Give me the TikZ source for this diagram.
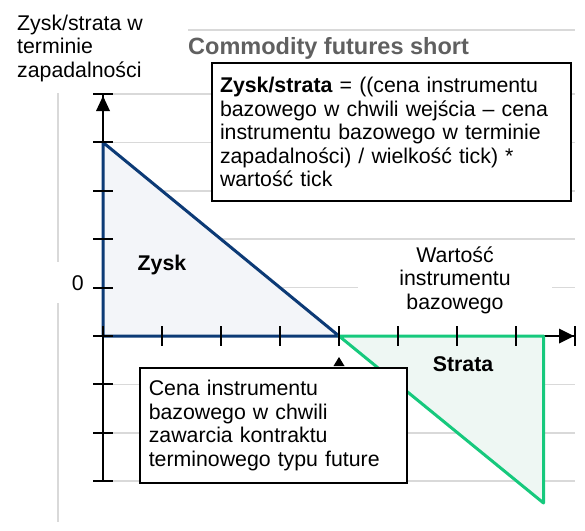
\documentclass[tikz,border=0pt]{standalone}
\usepackage{fontspec}
\setmainfont{Liberation Sans}
\definecolor{navy}{RGB}{12,58,118}
\definecolor{mint}{RGB}{22,201,125}
\definecolor{gridc}{RGB}{217,217,217}
\definecolor{bluefill}{RGB}{243,245,249}
\definecolor{greenfill}{RGB}{238,247,243}
\definecolor{titlegrey}{RGB}{96,96,96}
\begin{document}
\begin{tikzpicture}[x=1pt,y=-1pt,
  gridline/.style={draw=gridc,line width=1.5pt},
  axisline/.style={draw=black,line width=2pt},
  tickmark/.style={draw=black,line width=2pt},
  txt/.style={font=\fontsize{21.3}{23.5}\selectfont, inner sep=0pt},
  boldtxt/.style={font=\fontsize{21.3}{23.5}\selectfont\bfseries, inner sep=0pt},
  boxnode/.style={draw=black, fill=white, font=\fontsize{21.3}{23.5}\selectfont, align=left}]
\useasboundingbox (0,0) rectangle (585,530);
% grid
\foreach \y in {94,142.4,190.8,239.2,384.4,432.8,481.2}
  \draw[gridline] (103,\y) -- (575,\y);
\draw[gridline] (103,287.6) -- (358,287.6);
\draw[gridline] (552,287.6) -- (575,287.6);
\draw[gridline] (188,30) -- (575,30);
\draw[gridline] (58,93) -- (58,262);
\draw[gridline] (58,303) -- (58,522);
% axes
\coordinate (O) at (103,336);
\coordinate (ytop) at (103,94);
\coordinate (ybot) at (103,481.2);
\coordinate (xend) at (575,336);
\draw[axisline] (ybot) -- (ytop);
\draw[axisline] (O) -- (xend);
\fill (103,96) -- (96,111) -- (110,111) -- cycle;
\fill (574,336) -- (559,328.5) -- (559,343.5) -- cycle;
\draw[tickmark] (93,94) -- (113,94);
\draw[tickmark] (575,326) -- (575,346);
% triangles
\coordinate (bt) at (103,142.4);
\coordinate (be) at (339,336);
\coordinate (gc) at (543.5,336);
\coordinate (gb) at (543.5,503);
\draw[navy, line width=3pt, fill=bluefill, line join=round] (bt) -- (O) -- (be) -- cycle;
\draw[mint, line width=3pt, fill=greenfill, line join=round] (be) -- (gc) -- (gb) -- cycle;
% ticks
\foreach \y in {142.4,190.8,239.2,287.6,336,384.4,432.8,481.2}
  \draw[tickmark] (93,\y) -- (113,\y);
\foreach \x in {103,162,221,280,339,398,457,516}
  \draw[tickmark] (\x,326) -- (\x,346);
% labels
\node[txt, align=left, anchor=west] (ylabel) at (17,48) {Zysk/strata w\\terminie\\zapadalności};
\node[font=\fontsize{23.5}{26}\selectfont\bfseries, inner sep=0pt, text=titlegrey, anchor=west] (title) at (188,48) {Commodity futures short};
\node[txt, anchor=east] (zero) at (84,283) {0};
\node[boldtxt] (zysk) at (162,265) {Zysk};
\node[txt, align=center] (xlabel) at (455,280) {Wartość\\instrumentu\\bazowego};
\node[boldtxt] (strata) at (463,364) {Strata};
% formula box
\node[boxnode, line width=2pt, anchor=north west, minimum width=359pt, minimum height=138pt,
  text width=343pt, inner sep=8pt] (formula) at (211,62)
  {\textbf{Zysk/strata} = ((cena instrumentu\\bazowego w chwili wejścia – cena\\instrumentu bazowego w terminie\\zapadalności) / wielkość tick) *\\wartość tick};
% callout
\node[boxnode, line width=1.6pt, anchor=north west, minimum width=267pt, minimum height=115pt,
  text width=249pt, inner sep=9pt] (callout) at (139,367)
  {Cena instrumentu\\bazowego w chwili\\zawarcia kontraktu\\terminowego typu future};
\fill (339,357) -- (333.5,366) -- (344.5,366) -- cycle;
\end{tikzpicture}
\end{document}
